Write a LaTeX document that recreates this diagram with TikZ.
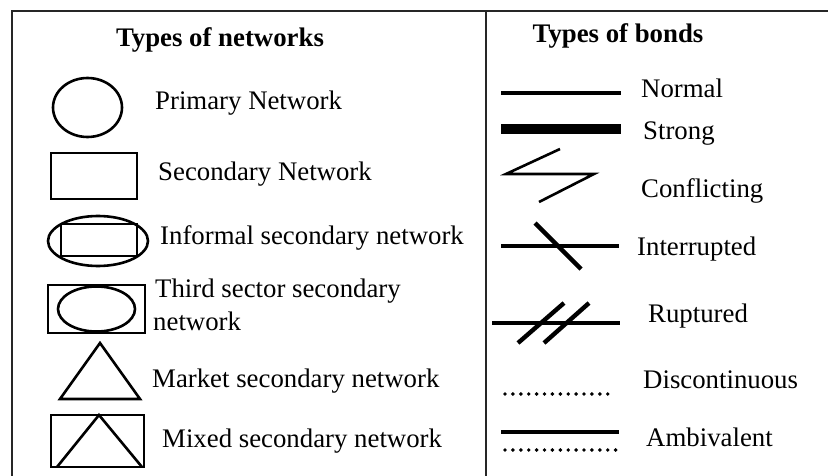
\documentclass[tikz,border=0pt]{standalone}
\usepackage{fontspec}
\setmainfont{Liberation Serif}
\begin{document}
\begin{tikzpicture}[x=1pt,y=-1pt,
  lbl/.style={anchor=base west,inner sep=0pt,font=\fontsize{26.8}{30}\selectfont},
  ttl/.style={anchor=base,inner sep=0pt,font=\fontsize{26.8}{30}\selectfont\bfseries},
  shp/.style={line width=2.6pt},
  bond/.style={line width=4.4pt},
  thinbond/.style={line width=2.6pt},
  dots/.style={line width=3.9pt,line cap=round,dash pattern=on 0pt off 7.9pt},
  frame/.style={line width=1.8pt,draw=black!85}]
\useasboundingbox (0,0) rectangle (828,476);
\fill[white] (0,0) rectangle (828,476);

% table frame: top rule, left rule and column divider
\draw[frame] (12,476) -- (12,11) -- (828,11);
\draw[frame] (486,11) -- (486,476);

% headings
\node[ttl] (hnet) at (220,47) {Types of networks};
\node[ttl] (hbond) at (618,43) {Types of bonds};

% ---- types of networks ----
\draw[shp] (87.5,107.5) ellipse [x radius=34.5,y radius=29.5];
\node[lbl] (primary) at (155,110) {Primary Network};

\draw[shp] (51,153) rectangle (137,199);
\node[lbl] (secondary) at (158,181) {Secondary Network};

\draw[shp] (98,241) ellipse [x radius=50,y radius=25];
\draw[shp] (61,224) rectangle (137,256);
\node[lbl] (informal) at (160,244) {Informal secondary network};

\draw[shp] (48,285) rectangle (145,333);
\draw[shp] (96.5,309) ellipse [x radius=38.5,y radius=22.5];
\node[lbl] (third) at (155,297) {Third sector secondary};
\node[lbl] (third2) at (153,330) {network};

\draw[shp,line join=miter] (100,343) -- (140,399) -- (60,399) -- cycle;
\node[lbl] (market) at (152,387) {Market secondary network};

\draw[shp] (51,415) rectangle (144,467);
\draw[shp] (57,467) -- (99,415) -- (142,467);
\node[lbl] (mixed) at (162,447) {Mixed secondary network};

% ---- types of bonds ----
\draw[bond] (501,93) -- (621,93);
\node[lbl] (normal) at (641,98) {Normal};

\draw[line width=10.5pt] (501,129) -- (621,129);
\node[lbl] (strong) at (643,140) {Strong};

\draw[thinbond,line join=miter] (560,149) -- (506,174) -- (594,174) -- (539,202);
\node[lbl] (conflicting) at (641,197) {Conflicting};

\draw[bond] (501,246) -- (619,246);
\draw[bond] (535,223) -- (581,269);
\node[lbl] (interrupted) at (637,255) {Interrupted};

\draw[bond] (492,323) -- (620,323);
\draw[bond] (518,343) -- (564,303);
\draw[bond] (544,343) -- (589,303);
\node[lbl] (ruptured) at (648,322) {Ruptured};

\draw[dots] (505,394) -- (610,394);
\node[lbl] (discontinuous) at (643,388) {Discontinuous};

\draw[bond] (501,432) -- (619,432);
\draw[dots] (505,450) -- (619,450);
\node[lbl] (ambivalent) at (646,446) {Ambivalent};
\end{tikzpicture}
\end{document}
